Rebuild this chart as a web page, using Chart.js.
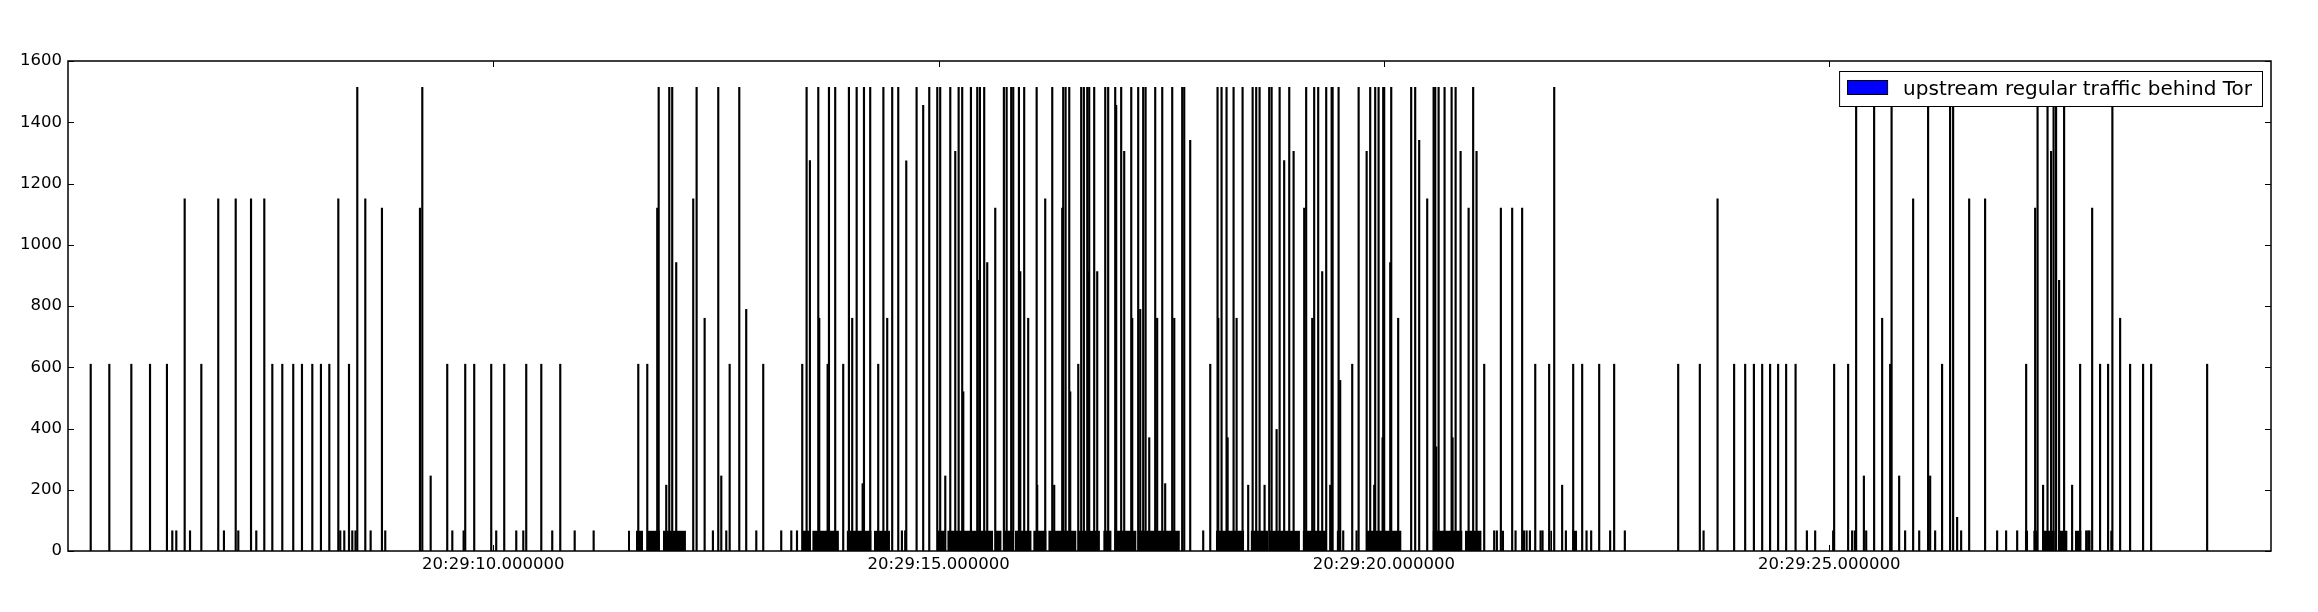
<!DOCTYPE html>
<html>
<head>
<meta charset="utf-8">
<script src="https://cdn.jsdelivr.net/npm/chart.js@4.4.1/dist/chart.umd.min.js"></script>
<style>
  html, body { margin: 0; padding: 0; background: #fff; }
  #wrap { width: 2318px; height: 612px; }
</style>
</head>
<body>
<div id="wrap"><canvas id="trafficChart" width="2318" height="612"></canvas></div>
<script>
// seconds after 20:29:00
const packetTimes = [
    5.480, 5.689, 5.936, 6.146, 6.336, 6.396, 6.441, 6.535, 6.595, 6.722, 6.912, 6.976, 7.108, 7.137, 7.280, 7.339, 7.429,
    7.519, 7.631, 7.754, 7.852, 7.968, 8.065, 8.159, 8.260, 8.282, 8.327, 8.380, 8.417, 8.453, 8.473, 8.563, 8.623, 8.750, 8.787,
    9.177, 9.203, 9.297, 9.483, 9.540, 9.667, 9.685, 9.786,
    9.977, 10.033, 10.123, 10.258, 10.337, 10.370, 10.539, 10.662, 10.752, 10.914, 11.127,
    11.628, 11.729, 11.841, 11.857, 11.942, 11.976, 12.009, 12.054,
    12.245, 12.283, 12.373, 12.466, 12.526, 12.560, 12.616, 12.654, 12.762, 12.840, 12.953, 13.031, 13.233, 13.346, 13.410,
    13.469, 13.518, 13.555, 13.649, 13.660, 13.754, 13.769, 13.839, 13.929, 13.993, 14.030, 14.080, 14.147, 14.162, 14.232, 14.322, 14.380,
    14.423, 14.479, 14.547, 14.588, 14.625, 14.637, 14.753, 14.827, 14.895, 14.985, 15.018, 15.075, 15.131, 15.187, 15.225, 15.265,
    15.277, 15.363, 15.434, 15.456, 15.464, 15.512, 15.546, 15.636, 15.733, 15.764, 15.815, 15.838, 15.902, 15.917, 15.961, 16.006,
    16.101, 16.107, 16.197, 16.276, 16.298, 16.388, 16.399, 16.426, 16.467, 16.478, 16.568, 16.601, 16.631, 16.669, 16.684,
    16.691, 16.747, 16.781, 16.871, 16.904, 16.983, 16.994, 17.050, 17.084, 17.163, 17.174, 17.241, 17.264, 17.297, 17.324, 17.365,
    17.432, 17.454, 17.511, 17.544, 17.623, 17.646, 17.735, 17.758, 17.825, 17.971, 18.050, 18.132, 18.140, 18.177, 18.233, 18.245,
    18.312, 18.346, 18.413, 18.476, 18.526, 18.566, 18.604, 18.660, 18.712, 18.739, 18.795, 18.829, 18.880, 18.937, 18.986,
    19.105, 19.127, 19.195, 19.217, 19.262, 19.307, 19.352, 19.397, 19.413, 19.424, 19.491, 19.509, 19.543, 19.644, 19.693, 19.716,
    19.806, 19.846, 19.891, 19.902, 19.940, 19.985, 19.992, 20.003, 20.071, 20.082, 20.160, 20.306, 20.351, 20.396, 20.486,
    20.558, 20.576, 20.587, 20.614, 20.681, 20.760, 20.771, 20.805, 20.861, 20.951, 21.002, 21.040, 21.126, 21.238, 21.268,
    21.313, 21.440, 21.478, 21.552, 21.572, 21.602, 21.639, 21.699, 21.759, 21.781, 21.855, 21.912, 22.001, 22.043, 22.125,
    22.226, 22.275, 22.327, 22.417, 22.540, 22.585, 22.705, 23.304, 23.547, 23.589,
    23.746, 23.932, 24.056, 24.154, 24.247, 24.336, 24.426, 24.516, 24.622, 24.749, 24.842, 25.044, 25.055, 25.212, 25.257,
    25.288, 25.302, 25.389, 25.415, 25.504, 25.594, 25.684, 25.700, 25.785, 25.852,
    25.942, 26.010, 26.110, 26.133, 26.189, 26.267, 26.357, 26.391, 26.436, 26.481, 26.571, 26.750, 26.885, 26.986, 27.110,
    27.211, 27.312, 27.339, 27.401, 27.451, 27.491, 27.519, 27.547, 27.581, 27.637, 27.727, 27.817, 27.885, 27.907, 27.922,
    27.952, 28.041, 28.131, 28.179, 28.266, 28.378, 28.524, 28.614, 29.243
];
const packetSizes = [
    610, 610, 610, 610, 610, 66, 66, 1150, 66, 610, 1150, 66, 1150, 66, 1150, 66, 1150,
    610, 610, 610, 610, 610, 610, 610, 1150, 66, 66, 610, 66, 66, 1514, 1150, 66, 1120, 66,
    1120, 1514, 245, 610, 66, 66, 610, 610,
    610, 66, 610, 66, 66, 610, 610, 66, 610, 66, 66,
    610, 610, 1120, 1514, 215, 1514, 1514, 942,
    1150, 1514, 760, 66, 1514, 245, 66, 610, 1514, 789, 66, 610, 66, 66, 66,
    610, 1514, 1275, 1514, 760, 610, 1514, 1514, 610, 1514, 760, 1514, 220, 1514, 1514, 610, 1514,
    760, 1514, 1514, 66, 66, 1274, 1514, 1455, 1514, 1514, 1514, 245, 1514, 1305, 1514, 1514,
    520, 1514, 1514, 884, 1514, 1514, 942, 1120, 1514, 1514, 1514, 1514, 1514, 912, 1514, 760,
    1514, 215, 1150, 1514, 215, 1120, 1514, 1514, 1514, 520, 610, 1514, 1514, 1514, 912,
    1514, 1514, 912, 1514, 1514, 1514, 1455, 1514, 1305, 1514, 760, 1514, 789, 1514, 1514, 370,
    1514, 760, 1514, 220, 1514, 760, 1514, 1514, 1341, 66, 610, 1514, 760, 1514, 1514, 370,
    1514, 760, 1514, 215, 1514, 1514, 1514, 215, 1514, 1514, 397, 1514, 1275, 1514, 1305,
    1120, 1514, 760, 1514, 1514, 912, 1514, 215, 1514, 1514, 1514, 557, 66, 610, 66, 1514,
    1305, 1514, 215, 1514, 1514, 370, 1514, 1514, 942, 1514, 760, 1514, 1514, 1341, 1150,
    1514, 1514, 340, 1514, 1514, 1514, 370, 1514, 1305, 1120, 1514, 1305, 610, 66, 66,
    1120, 1120, 66, 1120, 66, 66, 66, 610, 66, 66, 610, 1514, 215, 66, 610,
    610, 66, 66, 610, 66, 610, 66, 610, 610, 66,
    1150, 610, 610, 610, 610, 610, 610, 610, 610, 66, 66, 66, 610, 610, 66,
    66, 1514, 245, 66, 1514, 760, 610, 1514, 245, 66,
    1150, 66, 1514, 245, 66, 610, 1514, 1514, 110, 66, 1150, 1150, 66, 66, 66,
    610, 1120, 1514, 215, 1514, 1305, 1514, 1514, 884, 1514, 215, 610, 66, 66, 66,
    1120, 610, 610, 1514, 760, 610, 610, 610, 610
];

// stretches where the 66-byte acks sit so close they merge into one block
const ackRunStarts = [11.512, 11.602, 11.725, 11.905, 13.469, 13.581, 13.967, 14.274, 14.985, 15.097, 15.632, 15.726,
    15.857, 16.062, 16.231, 16.576, 16.848, 16.972, 17.241, 18.113, 18.503, 18.720, 19.087, 19.469, 19.798, 20.546,
    20.909, 21.321, 21.867, 22.114, 27.196, 27.290, 27.390, 27.570, 27.758, 28.154];
const ackRunEnds = [11.535, 11.681, 11.871, 12.163, 13.567, 13.881, 14.248, 14.454, 15.071, 15.613, 15.708, 15.838,
    16.045, 16.213, 16.549, 16.811, 16.943, 17.223, 17.709, 18.431, 18.701, 19.057, 19.356, 19.506, 20.198, 20.883,
    21.097, 21.350, 21.889, 22.170, 27.233, 27.345, 27.533, 27.676, 27.833, 28.176];
const ackSize = 66;

const xTickSeconds = [10, 15, 20, 25];
const yTickValues = [0, 200, 400, 600, 800, 1000, 1200, 1400, 1600];
const xMin = 5.225;
const xMax = 29.96;
const seriesLabel = 'upstream regular traffic behind Tor';
const legendPatchColor = 'blue';

const fmtTime = s => '20:29:' + String(s).padStart(2, '0') + '.000000'

const barData = packetTimes.map((t, i) => ({ x: t, y: packetSizes[i] }))
const ackData = []
ackRunStarts.forEach((s, i) => {
    ackData.push({ x: s, y: ackSize })
    ackData.push({ x: ackRunEnds[i], y: ackSize })
    ackData.push({ x: ackRunEnds[i], y: null })
})

// matplotlib-ish frame: box, inward ticks on all four sides, legend box top-right
const framePlugin = {
    id: 'frame',
    afterDatasetsDraw(chart) {
        const { ctx, chartArea: a, scales } = chart;
        ctx.save();
        ctx.strokeStyle = '#000';
        ctx.lineWidth = 1;
        ctx.beginPath();
        xTickSeconds.forEach(v => {
            const px = Math.round(scales.x.getPixelForValue(v)) + 0.5;
            ctx.moveTo(px, a.bottom); ctx.lineTo(px, a.bottom - 6);
            ctx.moveTo(px, a.top); ctx.lineTo(px, a.top + 6);
        })
        yTickValues.forEach(v => {
            const py = Math.round(scales.y.getPixelForValue(v)) + 0.5;
            ctx.moveTo(a.left, py); ctx.lineTo(a.left + 6, py);
            ctx.moveTo(a.right, py); ctx.lineTo(a.right - 6, py);
        })
        ctx.stroke();
        ctx.lineWidth = 1.5;
        ctx.strokeRect(a.left, a.top, a.right - a.left, a.bottom - a.top);

        // legend
        ctx.font = '20px "DejaVu Sans"';
        const tw = ctx.measureText(seriesLabel).width;
        const boxRight = a.right - 9, boxTop = a.top + 10, boxH = 35;
        const boxW = 8 + 40 + 16 + tw + 10;
        const boxLeft = boxRight - boxW;
        ctx.fillStyle = '#fff';
        ctx.fillRect(boxLeft, boxTop, boxW, boxH);
        ctx.lineWidth = 1;
        ctx.strokeRect(boxLeft + 0.5, boxTop + 0.5, boxW, boxH);
        ctx.fillStyle = legendPatchColor;
        ctx.fillRect(boxLeft + 8, boxTop + 9, 40, 14);
        ctx.strokeRect(boxLeft + 8.5, boxTop + 9.5, 40, 14);
        ctx.fillStyle = '#000';
        ctx.textBaseline = 'middle';
        ctx.fillText(seriesLabel, boxLeft + 64, boxTop + boxH / 2 + 1);
        ctx.restore();
    }
}

const tickFont = { family: '"DejaVu Sans"', size: 16.5 }

let ctx = document.querySelector('#trafficChart').getContext('2d');
let trafficChart = new Chart(ctx, {
    type: 'bar',
    data: {
        datasets: [{
            label: seriesLabel,
            data: barData,
            backgroundColor: '#000',
            borderWidth: 0,
            barThickness: 1.5,
            order: 1
        }, {
            type: 'line',
            label: 'acks',
            data: ackData,
            backgroundColor: '#000',
            borderWidth: 0,
            pointRadius: 0,
            spanGaps: false,
            fill: 'origin',
            order: 2
        }]
    },
    options: {
        responsive: false,
        devicePixelRatio: 1,
        animation: false,
        layout: { padding: { top: 61, right: 47, left: 0, bottom: 0 } },
        plugins: {
            legend: { display: false },
            tooltip: { enabled: false }
        },
        scales: {
            x: {
                type: 'linear',
                min: xMin,
                max: xMax,
                offset: false,
                grid: { display: false, drawTicks: false },
                border: { display: false },
                afterBuildTicks: scale => { scale.ticks = xTickSeconds.map(v => ({ value: v })) },
                afterFit: scale => { scale.height = 61 },
                ticks: {
                    color: '#000',
                    font: tickFont,
                    padding: 4,
                    maxRotation: 0,
                    autoSkip: false,
                    callback: v => fmtTime(v)
                }
            },
            y: {
                min: 0,
                max: 1600,
                grid: { display: false, drawTicks: false },
                border: { display: false },
                afterFit: scale => { scale.width = 68 },
                ticks: {
                    color: '#000',
                    font: tickFont,
                    padding: 6,
                    stepSize: 200,
                    callback: v => String(v)
                }
            }
        }
    },
    plugins: [framePlugin]
});
</script>
</body>
</html>
